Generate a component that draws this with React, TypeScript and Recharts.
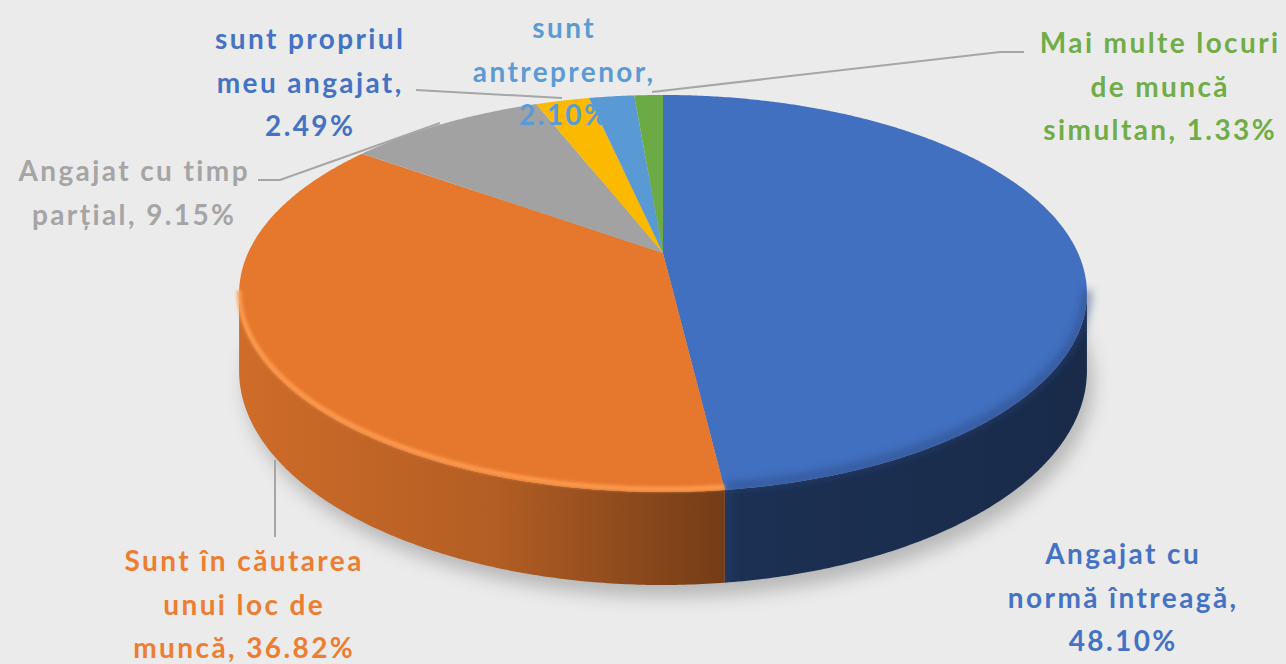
import React from 'react';
import { PieChart, Pie } from 'recharts';

// ---------- data ----------
const categories = [
  'Angajat cu normă întreagă',
  'Sunt în căutarea unui loc de muncă',
  'Angajat cu timp parțial',
  'sunt propriul meu angajat',
  'sunt antreprenor',
  'Mai multe locuri de muncă simultan',
];
const values = [48.1, 36.82, 9.15, 2.49, 2.1, 1.33];
// label text split into lines; the value is appended to the last line
const labelLines = [
  ['Angajat cu', 'normă întreagă,', ''],
  ['Sunt în căutarea', 'unui loc de', 'muncă, '],
  ['Angajat cu timp', 'parțial, '],
  ['sunt propriul', 'meu angajat,', ''],
  ['sunt', 'antreprenor,', ''],
  ['Mai multe locuri', 'de muncă', 'simultan, '],
];

// ---------- styles / layout ----------
const sliceColors = ['#4270C0', '#E6782E', '#A2A2A2', '#FBB900', '#5999D4', '#6CAA45'];
const labelColors = ['#4472C4', '#ED7D31', '#A5A5A5', '#4472C4', '#5B9BD5', '#70AD47'];
const rimColors = ['#24427C', '#FF9E52', '#BDBDBD', '#FFD04A', '#7DB3E4', '#8BC46A'];
const CX = 663;
const CY = 253;
const RX = 415;
const K = 0.204; // perspective strength
const RY_RATIO = 0.4585;
const DEPTH = 74;
const FONT = 'Lato, "Open Sans", sans-serif';
const FONT_SIZE = 28;
const LETTER_SPACING = 2.4;
const LINE_H = 43.5;
const labelPos: [number, number][] = [
  [1122, 553],
  [243, 560],
  [133, 170],
  [309, 38],
  [563, 27],
  [1159, 42],
];
const leaderPts: ([number, number][] | null)[] = [
  null,
  [[275, 460], [275, 537]],
  [[440, 123], [280, 180], [258, 180]],
  [[562, 98], [416, 90]],
  null,
  [[652, 92], [1000, 52], [1024, 52]],
];

const SIL = (Math.asin(K) * 180) / Math.PI;
const SIL_R = -SIL;
const SIL_L = -180 + SIL;

function proj(cx: number, cy: number, R: number, deg: number, drop = 0): [number, number] {
  const t = (deg * Math.PI) / 180;
  const u = Math.cos(t);
  const v = Math.sin(t);
  const w = 1 + K * v;
  return [cx + (R * u) / w, cy - (R * RY_RATIO * v) / w + drop / w];
}

function sample(a: number, b: number): number[] {
  const n = Math.max(2, Math.ceil(Math.abs(b - a) / 0.5));
  const out: number[] = [];
  for (let i = 0; i <= n; i++) out.push(a + ((b - a) * i) / n);
  return out;
}

function scaleColor(hex: string, f: number): string {
  const n = parseInt(hex.slice(1), 16);
  const r = Math.round(((n >> 16) & 255) * f);
  const g = Math.round(((n >> 8) & 255) * f);
  const b = Math.round((n & 255) * f);
  return `rgb(${r},${g},${b})`;
}

const fmt = (p: [number, number]) => `${p[0].toFixed(2)},${p[1].toFixed(2)}`;

const renderSlice = (props: any) => {
  const { cx, cy, outerRadius, startAngle, endAngle, index, value } = props;
  const R = outerRadius;
  const a0 = Math.min(startAngle, endAngle);
  const a1 = Math.max(startAngle, endAngle);
  const color = sliceColors[index];

  const rim = sample(a0, a1).map((t) => proj(cx, cy, R, t));
  const topD = `M${cx},${cy} ` + rim.map((p) => 'L' + fmt(p)).join(' ') + ' Z';

  const lo = Math.max(a0, SIL_L);
  const hi = Math.min(a1, SIL_R);
  let sideD: string | null = null;
  let rimD: string | null = null;
  if (hi > lo) {
    const angs = sample(lo, hi);
    const upper = angs.map((t) => proj(cx, cy, R, t));
    const lower = angs
      .slice()
      .reverse()
      .map((t) => proj(cx, cy, R, t, DEPTH));
    sideD = 'M' + upper.map(fmt).join(' L') + ' L' + lower.map(fmt).join(' L') + ' Z';
    rimD = 'M' + upper.map((p) => fmt([p[0], p[1] - 3])).join(' L');
  }

  const xL = cx - R / Math.sqrt(1 - K * K);
  const xR = cx + R / Math.sqrt(1 - K * K);

  let shadowD: string | null = null;
  if (index === 0) {
    const all = sample(-180, 180).map((t) => proj(cx, cy, R, t, DEPTH));
    shadowD = 'M' + all.map(fmt).join(' L') + ' Z';
  }

  const [lx, ly] = labelPos[index];
  const lines = labelLines[index].slice();
  lines[lines.length - 1] = lines[lines.length - 1] + `${Number(value).toFixed(2)}%`;
  const leader = leaderPts[index];

  return (
    <g key={`slice-${index}`}>
      <defs>
        <linearGradient id={`side-${index}`} gradientUnits="userSpaceOnUse" x1={xL} y1={0} x2={xR} y2={0}>
          <stop offset="0" stopColor={scaleColor(color, 0.9)} />
          <stop offset="0.3" stopColor={scaleColor(color, 0.78)} />
          <stop offset="0.572" stopColor={scaleColor(color, 0.5)} />
          <stop offset="0.59" stopColor={scaleColor(color, 0.43)} />
          <stop offset="1" stopColor={scaleColor(color, 0.38)} />
        </linearGradient>
        <filter id={`blur-${index}`} x="-20%" y="-20%" width="140%" height="140%">
          <feGaussianBlur stdDeviation={index === 0 ? 4 : 1.5} />
        </filter>
        {index === 0 && (
          <filter id="shadowBlur" x="-20%" y="-20%" width="140%" height="160%">
            <feGaussianBlur stdDeviation="9" />
          </filter>
        )}
      </defs>
      {shadowD && (
        <path d={shadowD} fill="#000" fillOpacity={0.22} transform="translate(6,12)" filter="url(#shadowBlur)" />
      )}
      {sideD && <path d={sideD} fill={`url(#side-${index})`} stroke="none" />}
      <path d={topD} fill={color} stroke="none" />
      {rimD && (
        <path
          d={rimD}
          fill="none"
          stroke={rimColors[index]}
          strokeWidth={index === 0 ? 9 : 5}
          strokeOpacity={index === 0 ? 0.55 : 0.85}
          filter={`url(#blur-${index})`}
        />
      )}
      {leader && (
        <polyline
          points={leader.map((p) => `${p[0]},${p[1]}`).join(' ')}
          fill="none"
          stroke="#A6A6A6"
          strokeWidth={2}
        />
      )}
      {lines.map((s, j) => (
        <text
          key={j}
          x={lx + LETTER_SPACING / 2}
          y={ly + j * LINE_H}
          textAnchor="middle"
          dominantBaseline="central"
          fill={labelColors[index]}
          fontFamily={FONT}
          fontSize={FONT_SIZE}
          fontWeight={700}
          letterSpacing={LETTER_SPACING}
        >
          {s}
        </text>
      ))}
    </g>
  );
};

const data = categories.map((name, i) => ({ name, value: values[i] }));

export default function App() {
  return (
    <div
      style={{
        position: 'fixed',
        left: 0,
        top: 0,
        width: 1286,
        height: 664,
        background: '#EBEBEB',
        overflow: 'hidden',
      }}
    >
      <PieChart width={1286} height={664} margin={{ top: 0, right: 0, bottom: 0, left: 0 }}>
        <Pie
          data={data}
          dataKey="value"
          nameKey="name"
          cx={CX}
          cy={CY}
          innerRadius={0}
          outerRadius={RX}
          startAngle={90}
          endAngle={-270}
          fill="none"
          stroke="none"
          isAnimationActive={false}
          labelLine={false}
          label={renderSlice}
        />
      </PieChart>
    </div>
  );
}
